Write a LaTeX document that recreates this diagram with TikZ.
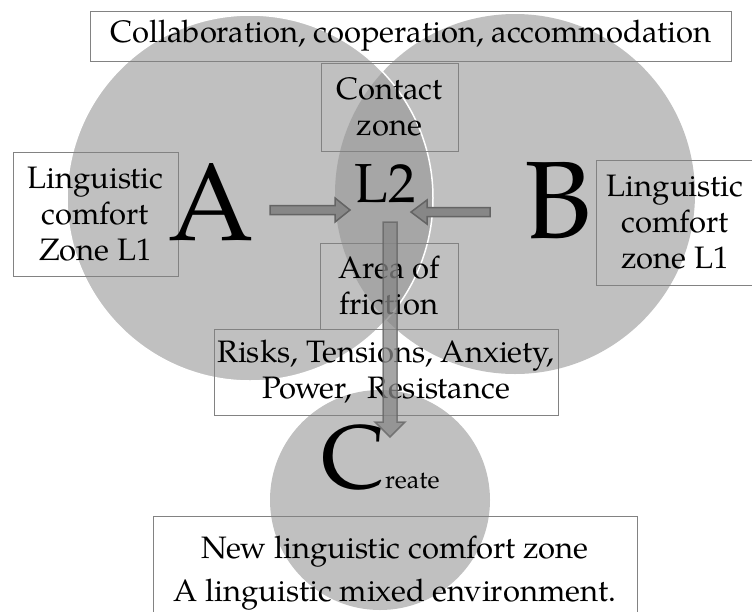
\documentclass[tikz,border=0pt]{standalone}
\usepackage{fontspec}
\setmainfont{TeX Gyre Pagella}
\definecolor{circ}{RGB}{192,192,192}
\definecolor{lens}{RGB}{166,166,166}
\definecolor{boxline}{RGB}{130,130,130}
\definecolor{arrfill}{RGB}{135,135,135}
\definecolor{arrline}{RGB}{100,100,100}
\begin{document}
\begin{tikzpicture}[x=1pt,y=-1pt,
  box/.style={draw=boxline, line width=0.8pt, align=center, inner sep=0pt,
    font=\fontsize{31}{36}\selectfont},
  big/.style={anchor=base, inner sep=0pt},
  blockarrow/.style={fill=arrfill, draw=arrline, line width=1.5pt, line join=miter}]
\useasboundingbox (0,0) rectangle (752,611);
\clip (0,0) rectangle (752,611);
% circles
\coordinate (ca) at (250,198);
\coordinate (cb) at (515,194);
\coordinate (cc) at (380,500);
\fill[circ] (cb) circle[radius=180];
\fill[circ] (ca) circle[radius=183];
\begin{scope}
  \clip (ca) circle[radius=183];
  \fill[lens] (cb) circle[radius=180];
\end{scope}
\draw[white, line width=1.5pt] (ca) circle[radius=183];
\fill[circ] (cc) circle[radius=110];
% boxes
\node[box, minimum width=641, minimum height=50] (top) at (411,36) {Collaboration, cooperation, accommodation};
\node[box, minimum width=137, minimum height=88] (contact) at (389.5,107) {Contact\\zone};
\node[box, minimum width=165, minimum height=124] (left) at (95.5,214) {Linguistic\\comfort\\Zone L1};
\node[box, minimum width=158, minimum height=125] (right) at (675,222.5) {Linguistic\\comfort\\zone L1};
\node[box, minimum width=138, minimum height=86] (area) at (389,286) {Area of\\friction};
\node[box, minimum width=344, minimum height=86] (risks) at (386,372) {Risks, Tensions, Anxiety,\\Power,\ \ Resistance};
\node[box, minimum width=484, minimum height=114, font=\fontsize{31}{43}\selectfont] (newzone) at (395,573) {New linguistic comfort zone\\A linguistic mixed environment.};
% letters
\node[big, font=\fontsize{110}{110}\selectfont] (A) at (211,240) {A};
\node[big, font=\fontsize{110}{110}\selectfont] (B) at (558,238) {B};
\node[big, font=\fontsize{55}{55}\selectfont] (L2) at (385,202) {L2};
\node[anchor=base west, inner sep=0pt, font=\fontsize{90}{90}\selectfont] (C) at (321,488) {C\fontsize{25}{25}\selectfont reate};
% block arrows
\coordinate (pa) at (270,210);
\coordinate (pb) at (490,212);
\coordinate (pc) at (390,222);
\draw[blockarrow, shift={(pa)}] (0,-4.5) -- (65,-4.5) -- (65,-12) -- (80,0) -- (65,12) -- (65,4.5) -- (0,4.5) -- cycle;
\draw[blockarrow, shift={(pb)}] (0,-4.5) -- (-63,-4.5) -- (-63,-12) -- (-79,0) -- (-63,12) -- (-63,4.5) -- (0,4.5) -- cycle;
\draw[blockarrow, opacity=0.75, shift={(pc)}] (-7,0) -- (7,0) -- (7,200) -- (15,200) -- (0,215) -- (-15,200) -- (-7,200) -- cycle;
\end{tikzpicture}
\end{document}
